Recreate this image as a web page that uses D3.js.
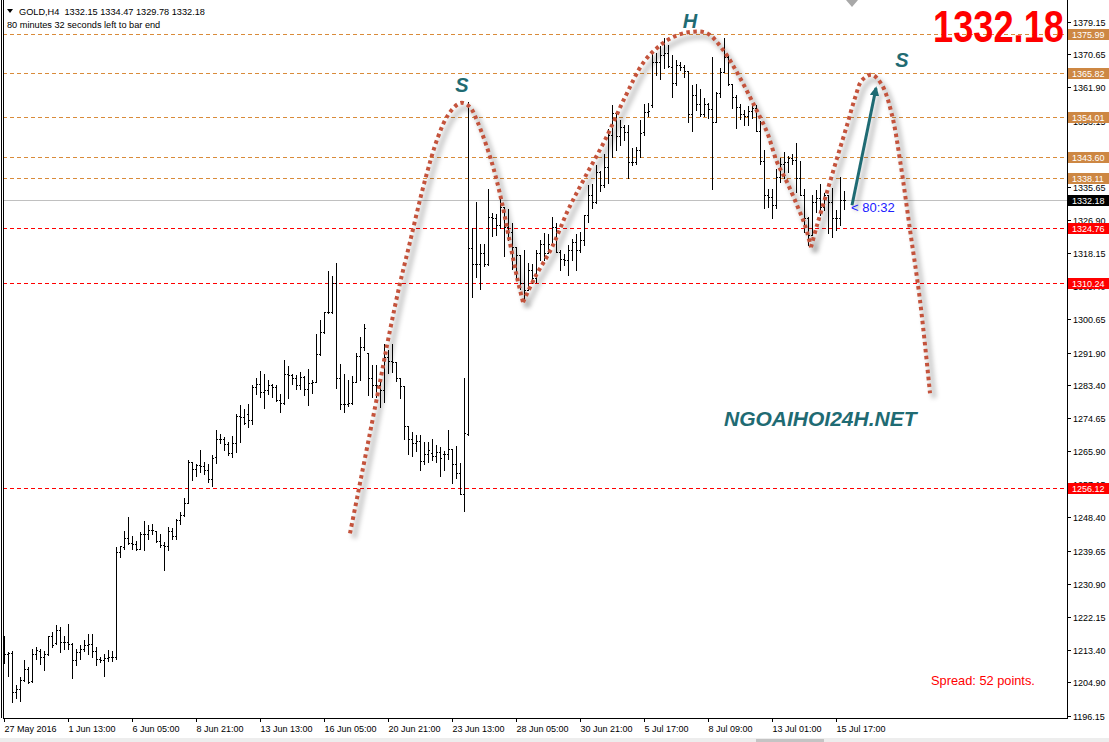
<!DOCTYPE html>
<html><head><meta charset="utf-8">
<script src="https://cdn.jsdelivr.net/npm/d3@7/dist/d3.min.js"></script>
<style>
html,body{margin:0;padding:0;background:#fff;}
svg{display:block;}
text{font-family:"Liberation Sans",Arial,sans-serif;}
</style></head>
<body>
<svg id="chart" width="1109" height="742"></svg>
<script>
// ---------------- DATA ----------------
const opens = [1213.0,1212.4,1212.7,1202.3,1203.2,1205.4,1208.5,1205.2,1212.4,1213.3,1211.6,1212.3,1217.0,1215.3,1218.8,1215.5,1215.5,1215.1,1210.9,1212.9,1213.8,1214.8,1215.1,1213.2,1211.1,1210.7,1211.4,1211.6,1211.6,1239.3,1240.6,1243.0,1241.7,1241.5,1240.2,1244.1,1244.0,1245.0,1244.8,1242.1,1241.2,1241.0,1244.8,1243.4,1247.8,1249.0,1252.2,1263.1,1261.3,1262.2,1262.0,1261.0,1258.6,
1264.4,1269.2,1269.0,1267.7,1265.3,1268.1,1275.1,1274.8,1275.6,1274.2,1282.9,1283.7,1281.5,1282.0,1283.3,1282.9,1279.5,1278.6,1286.2,1286.0,1285.1,1283.3,1285.5,1282.2,1283.9,1284.2,1291.5,1297.4,1302.7,1302.7,1310.2,1285.3,1278.3,1278.4,1278.6,1284.2,1291.0,1293.3,1291.8,1285.1,1283.3,1283.3,1282.0,1290.8,1289.7,1289.5,1285.3,1283.0,1272.5,1269.2,1268.1,1268.6,1263.3,1265.1,
1265.3,1264.6,1265.7,1265.1,1265.1,1266.6,1262.6,1260.2,1254.5,1270.5,1319.4,1315.4,1315.4,1318.1,1315.2,1327.8,1327.3,1325.5,1330.4,1325.1,1323.8,1319.8,1317.6,1310.2,1308.4,1313.7,1311.5,1318.1,1320.5,1318.1,1320.7,1325.1,1318.5,1316.5,1316.3,1318.9,1321.1,1318.9,1321.6,1328.2,1333.5,1331.7,1339.6,1336.1,1340.9,1349.3,1355.2,1349.0,1351.5,1350.2,1342.3,1342.3,1345.4,
1350.0,1355.3,1357.2,1368.5,1368.7,1370.4,1370.9,1367.4,1363.0,1367.8,1367.4,1366.2,1354.8,1359.9,1357.4,1355.0,1357.4,1356.2,1352.7,1360.3,1366.0,1370.0,1362.7,1359.4,1356.8,1354.8,1354.4,1355.7,1356.4,1350.4,1342.5,1333.5,1333.0,1330.8,1338.3,1341.8,1342.3,1343.3,1342.7,1337.9,1333.5,1327.3,1322.9,1331.7,1332.6,1330.4,1333.5,1331.7,1327.3,1327.3,1332.15];
const highs = [1217.0,1212.9,1213.3,1204.1,1206.3,1210.9,1208.9,1213.8,1214.2,1213.8,1213.3,1217.2,1218.2,1219.9,1219.5,1217.0,1220.4,1215.3,1213.8,1214.8,1216.0,1217.7,1217.6,1214.2,1211.6,1212.4,1213.5,1213.2,1240.6,1240.8,1244.8,1248.5,1243.4,1242.2,1244.6,1247.5,1246.3,1246.6,1244.9,1244.1,1241.9,1245.9,1245.7,1248.1,1249.9,1253.6,1263.5,1263.1,1262.6,1266.1,1263.1,1262.4,1264.8,
1271.6,1270.4,1269.7,1268.3,1269.8,1275.8,1278.0,1276.9,1278.3,1283.3,1285.1,1287.1,1286.2,1284.6,1283.7,1283.3,1280.9,1289.9,1288.3,1286.2,1286.0,1286.8,1285.7,1287.7,1284.8,1296.8,1300.5,1302.7,1313.5,1312.1,1315.6,1289.0,1286.2,1284.6,1285.7,1291.8,1295.9,1299.4,1291.8,1288.6,1288.6,1284.6,1294.1,1292.7,1294.1,1289.5,1285.3,1283.0,1272.5,1271.0,1270.1,1270.1,1268.3,1268.3,
1269.2,1267.5,1267.0,1266.0,1271.6,1266.6,1267.2,1262.8,1285.3,1358.1,1324.7,1331.7,1320.7,1320.5,1335.0,1328.8,1328.6,1333.2,1330.4,1329.7,1326.2,1319.8,1317.6,1319.1,1315.6,1315.4,1319.1,1321.6,1323.5,1323.2,1327.6,1326.0,1319.1,1317.9,1320.3,1322.0,1323.2,1323.8,1328.2,1336.1,1336.4,1341.4,1339.9,1344.3,1350.8,1357.2,1355.2,1353.4,1351.9,1351.9,1345.8,1346.2,1353.4,
1357.4,1357.7,1370.6,1370.9,1372.9,1374.8,1373.1,1370.4,1369.1,1368.7,1367.8,1366.2,1362.5,1362.7,1361.6,1359.0,1357.9,1370.0,1360.8,1367.1,1374.8,1370.4,1362.7,1359.9,1357.4,1355.9,1357.1,1357.2,1357.2,1353.0,1345.4,1335.0,1335.2,1340.3,1343.2,1344.9,1343.9,1344.2,1347.1,1342.5,1335.0,1327.8,1333.5,1334.8,1336.3,1333.9,1333.6,1335.4,1329.5,1338.3,1334.47];
const lows = [1210.0,1206.5,1199.7,1200.8,1200.1,1205.2,1204.7,1205.0,1211.1,1209.8,1208.2,1212.0,1214.2,1215.1,1212.9,1213.8,1213.8,1206.1,1209.6,1211.1,1213.3,1212.4,1211.6,1209.4,1210.3,1206.7,1210.4,1210.5,1211.1,1238.0,1240.2,1241.5,1240.2,1239.7,1240.2,1239.7,1242.8,1244.1,1241.9,1240.6,1234.5,1239.7,1242.6,1242.8,1246.8,1248.7,1252.1,1258.4,1259.3,1260.4,1260.0,1257.8,1256.6,
1262.8,1268.1,1266.3,1264.8,1264.4,1265.7,1268.3,1273.2,1272.3,1273.0,1280.9,1280.2,1277.4,1280.9,1280.2,1279.2,1276.3,1278.4,1280.0,1283.7,1282.2,1282.2,1280.7,1278.0,1281.3,1284.2,1291.2,1297.0,1302.4,1302.4,1282.7,1277.1,1276.3,1277.8,1278.4,1284.2,1284.8,1292.7,1280.7,1280.2,1280.2,1277.6,1278.9,1286.4,1286.8,1284.5,1279.8,1269.2,1265.1,1264.6,1266.0,1261.0,1262.6,1263.1,
1263.5,1263.1,1259.3,1261.0,1263.9,1257.5,1258.9,1254.5,1250.1,1270.1,1306.5,1311.9,1308.8,1314.7,1315.0,1322.6,1322.9,1324.7,1317.4,1321.6,1314.1,1311.5,1308.8,1305.8,1308.4,1310.2,1310.6,1316.3,1316.3,1318.1,1320.7,1318.5,1313.8,1315.0,1312.4,1316.3,1313.8,1318.5,1320.3,1326.4,1330.2,1331.4,1334.6,1335.6,1336.7,1343.4,1345.5,1346.7,1348.0,1337.9,1341.4,1341.7,1343.6,
1349.3,1354.4,1356.8,1365.2,1364.1,1366.9,1367.4,1359.4,1362.5,1366.5,1364.7,1352.8,1350.4,1355.9,1354.4,1354.4,1353.7,1335.0,1352.7,1359.4,1366.0,1362.5,1356.5,1351.1,1353.5,1352.1,1352.0,1353.9,1350.4,1341.6,1330.1,1330.4,1327.3,1330.1,1337.0,1337.9,1339.6,1341.8,1334.4,1333.5,1323.8,1320.3,1322.9,1329.1,1328.2,1329.5,1323.4,1322.5,1324.3,1325.6,1329.78];
const closes = [1212.4,1212.7,1202.3,1203.2,1205.4,1208.5,1205.0,1212.4,1213.5,1211.6,1212.3,1217.0,1214.7,1218.8,1215.5,1215.5,1215.1,1210.9,1212.9,1213.8,1214.8,1215.1,1213.2,1211.1,1210.7,1211.4,1211.6,1211.6,1239.3,1240.8,1243.0,1241.7,1241.5,1240.2,1244.1,1244.1,1245.0,1245.0,1242.2,1241.2,1241.0,1244.8,1243.4,1247.8,1249.0,1252.2,1263.1,1261.3,1262.2,1262.0,1261.0,1258.6,1264.2,
1269.2,1269.0,1267.7,1265.3,1268.1,1275.1,1274.8,1273.4,1274.2,1282.9,1283.7,1281.5,1282.0,1283.3,1282.9,1279.5,1278.6,1286.2,1286.0,1285.1,1283.3,1285.5,1282.2,1283.9,1284.2,1291.5,1297.4,1302.7,1302.7,1310.2,1285.3,1278.3,1278.4,1278.6,1284.2,1291.0,1293.3,1298.5,1285.1,1283.3,1283.3,1282.0,1290.8,1289.7,1289.5,1285.3,1283.0,1272.5,1269.2,1268.1,1268.6,1263.3,1265.1,1266.1,
1264.6,1265.7,1264.2,1265.1,1266.6,1262.6,1260.2,1254.5,1270.7,1319.4,1315.4,1315.4,1318.1,1315.2,1327.8,1327.3,1325.5,1330.4,1325.1,1323.8,1319.8,1317.6,1310.2,1308.4,1313.7,1311.5,1318.1,1320.5,1318.1,1320.7,1325.1,1318.5,1316.5,1316.3,1318.9,1321.1,1318.9,1321.6,1328.2,1333.5,1331.7,1339.6,1336.1,1340.9,1349.3,1355.2,1349.0,1351.5,1350.2,1342.3,1342.3,1345.4,1349.9,
1355.3,1355.7,1368.5,1368.7,1370.4,1370.9,1367.6,1363.0,1367.8,1367.4,1366.2,1354.8,1359.9,1357.4,1355.0,1357.4,1356.2,1352.7,1360.3,1366.0,1370.0,1362.7,1359.4,1356.8,1354.8,1354.4,1355.7,1356.4,1350.4,1342.5,1333.5,1333.0,1330.8,1338.3,1341.8,1342.3,1343.3,1342.7,1337.9,1333.5,1327.3,1322.9,1331.7,1332.6,1330.4,1333.5,1331.7,1327.3,1327.3,1332.2,1332.18];

const timeLabels = ["27 May 2016","1 Jun 13:00","6 Jun 05:00","8 Jun 21:00","13 Jun 13:00","16 Jun 05:00","20 Jun 21:00","23 Jun 13:00","28 Jun 05:00","30 Jun 21:00","5 Jul 17:00","8 Jul 09:00","13 Jul 01:00","15 Jul 17:00"];
const barsPerLabel = 16;
const priceTicks = [1379.15,1370.65,1361.90,1353.15,1344.40,1335.65,1326.90,1318.15,1309.40,1300.65,1291.90,1283.40,1274.65,1265.90,1257.15,1248.40,1239.65,1230.90,1222.15,1213.40,1204.90,1196.15];
const levelValues = [1375.99,1365.82,1354.01,1343.60,1338.11,1324.76,1310.24,1256.12];
const levelKinds  = ["orange","orange","orange","orange","orange","red","red","red"];
const bidPrice = 1332.18;
const header1 = "GOLD,H4  1332.15 1334.47 1329.78 1332.18";
const header2 = "80 minutes 32 seconds left to bar end";
const timer = "< 80:32";
const spreadText = "Spread: 52 points.";
const watermark = "NGOAIHOI24H.NET";
// head & shoulders pattern: [bar index, price]
const arc1 = [[86.5,1244.2],[93.25,1280.1],[96.5,1297.8],[99,1310.2],[101,1318.9],[105.25,1337.4],[108.5,1348.8],[111,1354.6],[113.5,1357.5],[114.75,1357.8],[116.5,1356.7],[118.5,1352.5],[122,1341.9],[124.5,1331.4],[126.5,1320.8],[128.25,1311.8],[129.75,1305.2]];
const arc2 = [[129.75,1305.2],[132.75,1311.8],[137,1319.7],[141,1329.5],[145.25,1338.2],[150.25,1348.0],[155.25,1359.3],[159.75,1368.3],[163.25,1372.3],[167.25,1375.2],[171.5,1376.5],[175.75,1376.2],[179.75,1371.8],[184,1364.4],[187.75,1356.7],[190.75,1350.1],[193.25,1342.2],[195.75,1336.9],[198.25,1330.8],[200.25,1325.5],[201.75,1319.7]];
const arc3 = [[201.75,1319.7],[203.25,1325.5],[205.75,1334.3],[208.25,1343.2],[210.75,1351.9],[212.75,1359.1],[214.5,1363.8],[217,1365.2],[219.5,1362.5],[222,1354.6],[224,1342.7],[226.5,1324.3],[229,1305.7],[231.5,1281.2]];
const patternLabels = [{t:"S",i:114.5,p:1360.6},{t:"H",i:171.5,p:1377.6},{t:"S",i:224.5,p:1367.3}];
const arrowPts = [[212,1330.8],[218,1361.7]];

// ---------------- DRAW ----------------
const W = 1109, H = 742;
const svg = d3.select("#chart");
const x = d3.scaleLinear().domain([0, 266]).range([4, 1068]);
const y = d3.scaleLinear().domain([1196.15, 1379.15]).range([715.5, 22]);
const plotR = 1067, plotB = 718;

const defs = svg.append("defs");
const f = defs.append("filter").attr("id","blur").attr("x","-20%").attr("y","-20%").attr("width","140%").attr("height","140%");
f.append("feGaussianBlur").attr("stdDeviation",2);
defs.append("marker").attr("id","ah").attr("viewBox","0 0 10 10").attr("refX",8).attr("refY",5)
  .attr("markerWidth",3.2).attr("markerHeight",3.2).attr("orient","auto")
  .append("path").attr("d","M0,0 L10,5 L0,10 z").attr("fill","#1f6b73");
defs.append("clipPath").attr("id","plot").append("rect").attr("x",3).attr("y",3).attr("width",plotR-3).attr("height",plotB-3);

// bottom strip
svg.append("rect").attr("x",0).attr("y",738).attr("width",W).attr("height",4).attr("fill","#ededed");
svg.append("rect").attr("x",756).attr("y",739).attr("width",68).attr("height",3).attr("fill","#c4c4c4");

const plot = svg.append("g").attr("clip-path","url(#plot)");

// level lines
const lvlColor = {orange:"#d98b3a", red:"#ff0000"};
plot.selectAll("line.lvl").data(levelValues).join("line")
  .attr("x1",3).attr("x2",plotR)
  .attr("y1",d=>Math.round(y(d))+0.5).attr("y2",d=>Math.round(y(d))+0.5)
  .attr("stroke",(d,i)=>lvlColor[levelKinds[i]]).attr("stroke-width",1)
  .attr("stroke-dasharray","4,3").attr("shape-rendering","crispEdges");
plot.append("line").attr("x1",3).attr("x2",plotR)
  .attr("y1",Math.round(y(bidPrice))+0.5).attr("y2",Math.round(y(bidPrice))+0.5)
  .attr("stroke","#c0c0c0").attr("shape-rendering","crispEdges");

// bars
const idx = d3.range(opens.length);
const bars = plot.append("g").attr("fill","#000").attr("shape-rendering","crispEdges");
idx.forEach(i=>{
  const cx = Math.round(x(i));
  const hi = Math.max(highs[i],opens[i],closes[i]), lo = Math.min(lows[i],opens[i],closes[i]);
  const yt = Math.round(y(hi)), yb = Math.round(y(lo));
  bars.append("rect").attr("x",cx).attr("y",yt).attr("width",1).attr("height",Math.max(1,yb-yt+1));
  bars.append("rect").attr("x",cx-1).attr("y",Math.round(y(opens[i]))).attr("width",1).attr("height",1);
  bars.append("rect").attr("x",cx+1).attr("y",Math.round(y(closes[i]))).attr("width",1).attr("height",1);
});

// pattern curves
const line = d3.line().x(d=>x(d[0])).y(d=>y(d[1])).curve(d3.curveCatmullRom.alpha(0.5));
[arc1,arc2,arc3].forEach(a=>{
  plot.append("path").attr("d",line(a)).attr("fill","none").attr("stroke","#000").attr("stroke-opacity",0.18)
    .attr("stroke-width",6).attr("filter","url(#blur)").attr("transform","translate(4,5)");
});
[arc1,arc2,arc3].forEach(a=>{
  plot.append("path").attr("d",line(a)).attr("fill","none").attr("stroke","#c4533c")
    .attr("stroke-width",4).attr("stroke-dasharray","3.5,3.5");
});
// arrow
plot.append("line").attr("x1",x(arrowPts[0][0])).attr("y1",y(arrowPts[0][1])).attr("x2",x(arrowPts[1][0])).attr("y2",y(arrowPts[1][1]))
  .attr("stroke","#000").attr("stroke-opacity",0.2).attr("stroke-width",5).attr("filter","url(#blur)").attr("transform","translate(4,5)");
plot.append("line").attr("x1",x(arrowPts[0][0])).attr("y1",y(arrowPts[0][1])).attr("x2",x(arrowPts[1][0])).attr("y2",y(arrowPts[1][1]))
  .attr("stroke","#1f6b73").attr("stroke-width",3).attr("marker-end","url(#ah)");

// pattern labels
plot.selectAll("text.pl").data(patternLabels).join("text")
  .attr("x",d=>x(d.i)).attr("y",d=>y(d.p)).attr("text-anchor","middle")
  .attr("font-size",20).attr("font-weight","bold").attr("font-style","italic").attr("fill","#1f6b73").text(d=>d.t);

// watermark
plot.append("text").attr("x",724).attr("y",426).attr("font-size",21).attr("font-weight","bold").attr("font-style","italic")
  .attr("fill","#1f6b73").text(watermark);
// spread
plot.append("text").attr("x",931).attr("y",685).attr("font-size",12.8).attr("fill","#ff0000").text(spreadText);
// timer
plot.append("text").attr("x",x(opens.length-1)+7).attr("y",y(bidPrice)+12).attr("font-size",13).attr("fill","#2020ff").text(timer);

// big price
svg.append("text").attr("x",933).attr("y",42).attr("font-size",44).attr("font-weight","bold").attr("fill","#ff0000")
  .attr("textLength",131).attr("lengthAdjust","spacingAndGlyphs").text(bidPrice.toFixed(2));

// header
svg.append("path").attr("d","M7,9 L13,9 L10,13 z").attr("fill","#000");
svg.append("text").attr("x",19).attr("y",15).attr("font-size",9.2).attr("fill","#000").text(header1).style("white-space","pre");
svg.append("text").attr("x",7).attr("y",28).attr("font-size",9.2).attr("fill","#000").text(header2);

// shift marker
svg.append("path").attr("d",`M${x(212)-6},0 L${x(212)+6},0 L${x(212)},7 z`).attr("fill","#a8a8a8");

// frame
svg.append("line").attr("x1",1.5).attr("x2",1.5).attr("y1",0).attr("y2",plotB).attr("stroke","#000");
svg.append("path").attr("d",`M3.5,${plotB+0.5} L${plotR+0.5},${plotB+0.5} L${plotR+0.5},0 M3.5,0 L3.5,${plotB+0.5}`)
  .attr("fill","none").attr("stroke","#000").attr("shape-rendering","crispEdges");

// price axis
const ax = svg.append("g");
priceTicks.forEach(v=>{
  const yy = Math.round(y(v))+0.5;
  ax.append("line").attr("x1",plotR+1).attr("x2",plotR+4).attr("y1",yy).attr("y2",yy).attr("stroke","#000").attr("shape-rendering","crispEdges");
  ax.append("text").attr("x",1073).attr("y",yy+3.2).attr("font-size",9).attr("fill","#000").text(v.toFixed(2));
});
// level tags
const tagColor = {orange:"#cd8743", red:"#ff0000"};
levelValues.forEach((v,i)=>{
  const yy = Math.round(y(v));
  ax.append("rect").attr("x",1068).attr("y",yy-5).attr("width",41).attr("height",11).attr("fill",tagColor[levelKinds[i]]);
  ax.append("text").attr("x",1072).attr("y",yy+3.5).attr("font-size",9).attr("fill","#fff").text(v.toFixed(2));
});
{
  const yy = Math.round(y(bidPrice));
  ax.append("rect").attr("x",1068).attr("y",yy-5).attr("width",41).attr("height",11).attr("fill","#000");
  ax.append("text").attr("x",1072).attr("y",yy+3.5).attr("font-size",9).attr("fill","#fff").text(bidPrice.toFixed(2));
}

// time axis
timeLabels.forEach((t,k)=>{
  const xx = Math.round(x(k*barsPerLabel))+0.5;
  svg.append("line").attr("x1",xx).attr("x2",xx).attr("y1",plotB).attr("y2",plotB+4).attr("stroke","#000").attr("shape-rendering","crispEdges");
  svg.append("text").attr("x",xx).attr("y",732).attr("font-size",9).attr("fill","#000").text(t);
});
</script>
</body></html>
